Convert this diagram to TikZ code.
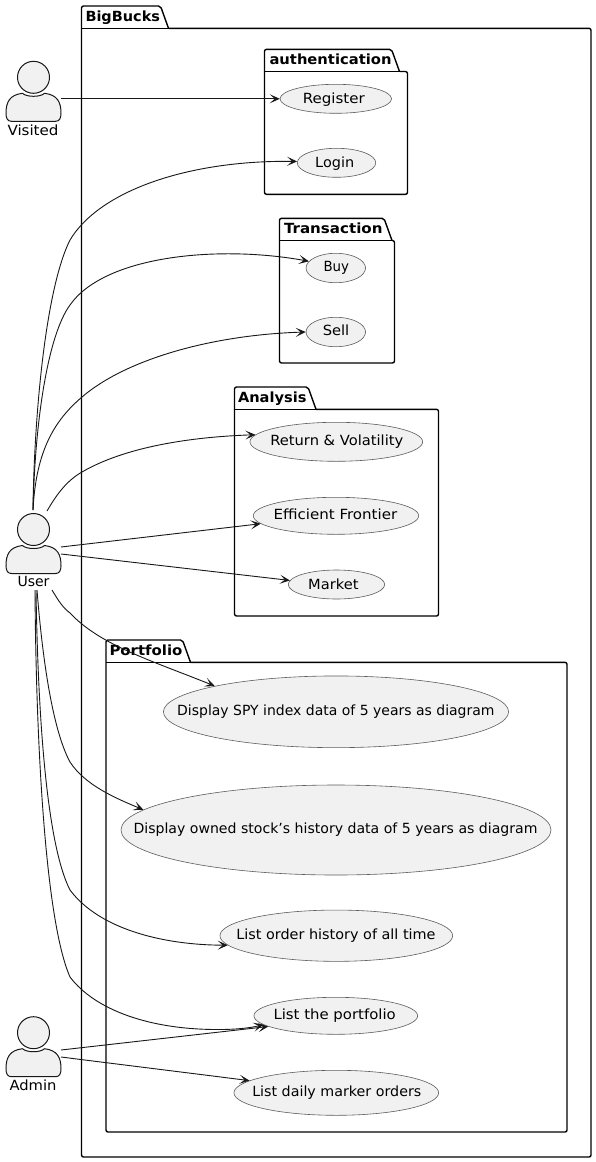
\documentclass[tikz,border=0pt]{standalone}
\usepackage{graphicx}
\usepackage{fontspec}
\setmainfont{DejaVu Sans}
\usetikzlibrary{arrows.meta,shapes.geometric}
\definecolor{fillgray}{HTML}{F1F1F1}
\definecolor{ink}{HTML}{181818}
% fitted text: width, left offset from node centre, baseline offset below node centre, text
\newcommand{\fittext}[4]{\makebox[0pt][l]{\hspace*{#2pt}\raisebox{-#3pt}[0pt][0pt]{\resizebox{#1pt}{\height}{#4}}}}
\tikzset{
  x=1pt,y=-1pt,
  uc/.style={ellipse,draw=ink!70,line width=.6pt,fill=fillgray,inner sep=0pt,text=black,font=\fontsize{14}{16}\selectfont},
  pkgtitle/.style={inner sep=0pt,font=\bfseries\fontsize{14}{17}\selectfont},
  actorname/.style={font=\fontsize{14}{16}\selectfont,inner sep=0pt},
  actorbox/.style={minimum width=55pt,minimum height=60pt,inner sep=0pt},
  actorline/.style={draw=ink,line width=1pt,fill=fillgray},
  link/.style={draw=ink,line width=.9pt,-{Stealth[length=10pt,width=9pt,inset=5pt]}}
}
\newcommand{\pkgshape}[6]{% x1,y1,x2,y2,tabright,lineY
  \draw[black,line width=1.4pt,fill=white,rounded corners=2pt,line join=round]
    (#5,#6) -- (#3,#6) -- (#3,#4) -- (#1,#4) -- (#1,#2) -- (#5-8,#2) -- (#5,#6);
  \draw[black,line width=1.4pt] (#1,#6) -- (#5,#6);
}
\newcommand{\actorshape}[2]{% center x, head center y
  \draw[actorline] (#1,#2) circle[radius=16pt];
  \draw[actorline] (#1-27.5,#2+36) .. controls (#1-27.5,#2+25) and (#1-24,#2+17.5) .. (#1-11,#2+16)
    .. controls (#1-7,#2+20) and (#1+7,#2+20) .. (#1+11,#2+16)
    .. controls (#1+24,#2+17.5) and (#1+27.5,#2+25) .. (#1+27.5,#2+36)
    .. controls (#1+27.5,#2+41) and (#1+26,#2+44) .. (#1+22,#2+44)
    -- (#1-22,#2+44) .. controls (#1-26,#2+44) and (#1-27.5,#2+41) .. (#1-27.5,#2+36) -- cycle;
}
\begin{document}
\begin{tikzpicture}
\useasboundingbox (0,0) rectangle (596,1162);
\fill[white] (0,0) rectangle (596,1162);
\pkgshape{81.5}{6}{591}{1157}{168.5}{28.3}
\node[pkgtitle] (tbig) at (85.5,21) {\fittext{74.5}{0}{0}{BigBucks}};
\pkgshape{264.5}{49.3}{407.5}{194.3}{399.5}{71.5}
\node[pkgtitle] (tauth) at (269.5,64.3) {\fittext{122}{0}{0}{authentication}};
\pkgshape{279.5}{218.3}{394.5}{363}{392}{240.5}
\node[pkgtitle] (ttrans) at (284,233.3) {\fittext{98.5}{0}{0}{Transaction}};
\pkgshape{234.5}{387}{438.5}{616}{316}{409.3}
\node[pkgtitle] (tana) at (238,402.3) {\fittext{68.5}{0}{0}{Analysis}};
\pkgshape{106}{640}{567}{1132}{190.5}{662.3}
\node[pkgtitle] (tport) at (109.5,655) {\fittext{73}{0}{0}{Portfolio}};

\node[uc,minimum width=111.5pt,minimum height=29pt] (register) at (335.8,98.8) {\fittext{62}{-33}{4.5}{Register}};
\node[uc,minimum width=78.5pt,minimum height=29pt] (login) at (336.5,162.8) {\fittext{39}{-21.3}{4.2}{Login}};
\node[uc,minimum width=59.5pt,minimum height=29.4pt] (buy) at (335.8,268) {\fittext{25.5}{-12.3}{3.7}{Buy}};
\node[uc,minimum width=59.5pt,minimum height=29.4pt] (sell) at (335.8,332) {\fittext{26.5}{-13}{3.7}{Sell}};
\node[uc,minimum width=172.7pt,minimum height=39pt] (ret) at (336.3,441.8) {\fittext{133}{-66}{3.2}{Return \& Volatility}};
\node[uc,minimum width=165.4pt,minimum height=37pt] (eff) at (336,515.8) {\fittext{123.7}{-62.5}{3.2}{Efficient Frontier}};
\node[uc,minimum width=96.4pt,minimum height=29pt] (market) at (336.5,584.5) {\fittext{50.3}{-28.3}{4.5}{Market}};
\node[uc,minimum width=345.2pt,minimum height=71.7pt] (spy) at (336,711.8) {\fittext{317.3}{-158.8}{3.2}{Display SPY index data of 5 years as diagram}};
\node[uc,minimum width=430pt,minimum height=90pt] (owned) at (336,830) {\fittext{404}{-202.5}{3.3}{Display owned stock’s history data of 5 years as diagram}};
\node[uc,minimum width=232.7pt,minimum height=51.3pt] (orders) at (336.3,935.7) {\fittext{199.3}{-100}{3.6}{List order history of all time}};
\node[uc,minimum width=163.7pt,minimum height=37pt] (plist) at (335.8,1015.8) {\fittext{122.3}{-62.3}{3.5}{List the portfolio}};
\node[uc,minimum width=204.7pt,minimum height=45pt] (daily) at (336.3,1092.8) {\fittext{169}{-84}{3.2}{List daily marker orders}};

\actorshape{33.5}{77.3}
\node[actorname] (visitedname) at (33,130) {\fittext{51}{-25.5}{5}{Visited}};
\node[actorbox] (visited) at (33.5,91) {};
\actorshape{33.5}{529.5}
\node[actorname] (username) at (33,582) {\fittext{32}{-15.5}{4.7}{User}};
\node[actorbox] (user) at (33.5,544) {};
\actorshape{33.5}{1032.7}
\node[actorname] (adminname) at (33,1085) {\fittext{47}{-23.5}{5}{Admin}};
\node[actorbox] (admin) at (33.5,1047) {};

\coordinate (vstart) at (visited.east |- register.west);
\coordinate (utop) at (33,510);
\coordinate (utopr) at (47,511);
\coordinate (ur1) at (61,547);
\coordinate (ur2) at (61,554);
\coordinate (ub1) at (52,590);
\coordinate (ub2) at (37,590);
\coordinate (ub3) at (36,590);
\coordinate (ub4) at (35,590);
\coordinate (ad1) at (61,1050);
\coordinate (ad2) at (61,1057);
\draw[link] (vstart) -- (register.west);
\draw[link] (utop) .. controls (34,420) and (45,290) .. (70,240) .. controls (100,190) and (190,160) .. (login.178);
\draw[link] (utop) .. controls (35,420) and (48,335) .. (70,305) .. controls (105,255) and (220,245) .. (buy.166.6);
\draw[link] (utop) .. controls (36,450) and (55,420) .. (82,397) .. controls (125,360) and (210,335) .. (sell.west);
\draw[link] (utopr) .. controls (58,492) and (68,480) .. (82,472) .. controls (125,447) and (190,437) .. (ret.175.2);
\draw[link] (ur1) -- (eff.186.3);
\draw[link] (ur2) -- (market.175.2);
\draw[link] (ub1) .. controls (58,600) and (63,608) .. (70,613) .. controls (100,645) and (150,660) .. (spy.168.5);
\draw[link] (ub2) .. controls (41,640) and (50,725) .. (70,762) .. controls (85,785) and (115,798) .. (owned.174.1);
\draw[link] (ub3) .. controls (38,720) and (47,845) .. (70,890) .. controls (100,930) and (165,945) .. (orders.185.4);
\draw[link] (ub4) .. controls (36,740) and (45,920) .. (70,977) .. controls (95,1010) and (150,1030) .. (220,1029.5) .. controls (235,1029.5) and (250,1028) .. (plist.187.5);
\draw[link] (ad1) -- (plist.189.4);
\draw[link] (ad2) -- (daily.172.8);
\end{tikzpicture}
\end{document}
